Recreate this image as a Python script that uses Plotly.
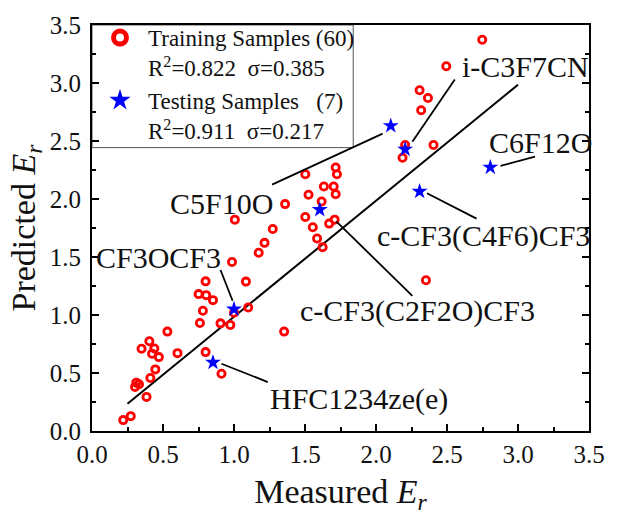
import plotly.graph_objects as go

# ---------------- data ----------------
train_x = [0.22, 0.273, 0.384, 0.303, 0.312, 0.331, 0.411, 0.446, 0.349, 0.404,
           0.439, 0.423, 0.471, 0.531, 0.602, 0.760, 0.781, 0.751, 0.804, 0.852,
           0.80, 0.905, 0.974, 1.0, 1.10, 0.80, 0.912, 1.084, 1.006, 1.36,
           1.502, 1.716, 1.725, 1.633, 1.702, 1.716, 1.525, 1.617, 1.502, 1.555,
           1.709, 1.67, 1.585, 1.624, 1.273, 1.215, 1.174, 0.986, 1.353, 2.748,
           2.495, 2.307, 2.366, 2.318, 2.405, 2.205, 2.187, 2.352]
train_y = [0.094, 0.128, 0.294, 0.38, 0.417, 0.403, 0.457, 0.531, 0.709, 0.774,
           0.711, 0.666, 0.637, 0.857, 0.671, 0.931, 1.037, 1.18, 1.171, 1.128,
           1.29, 0.928, 0.914, 1.02, 1.065, 0.68, 0.494, 1.288, 1.822, 1.956,
           2.213, 2.271, 2.213, 2.108, 2.108, 2.042, 2.037, 1.979, 1.845, 1.757,
           1.822, 1.788, 1.66, 1.585, 1.742, 1.622, 1.536, 1.457, 0.857, 3.373,
           3.145, 2.937, 2.871, 2.765, 2.465, 2.465, 2.356, 1.30]

test_names = ["CF3OCF3", "HFC1234ze(e)", "c-CF3(C2F2O)CF3", "C5F10O",
              "i-C3F7CN", "c-CF3(C4F6)CF3", "C6F12O"]
test_x = [1.0, 0.852, 1.604, 2.104, 2.205, 2.307, 2.805]
test_y = [1.05, 0.591, 1.908, 2.631, 2.428, 2.065, 2.273]

fit_range = [0.25, 3.0]
fit_slope = 1.0
fit_intercept = -0.015

legend_train = "Training Samples (60)<br>R<sup>2</sup>=0.822\u00a0\u00a0σ=0.385"
legend_test = "Testing Samples\u00a0\u00a0\u00a0(7)<br>R<sup>2</sup>=0.911\u00a0\u00a0σ=0.217"

tick_vals = [0.0, 0.5, 1.0, 1.5, 2.0, 2.5, 3.0, 3.5]

# label placement (text position, leader start, leader end) per test sample
label_pos = {
    "C5F10O": ((0.915, 1.962), (1.268, 2.124), (2.047, 2.563)),
    "CF3OCF3": ((0.465, 1.5), (0.905, 1.388), (0.99, 1.123)),
    "HFC1234ze(e)": ((1.88, 0.28), (0.912, 0.58), (1.238, 0.422)),
    "c-CF3(C2F2O)CF3": ((2.29, 1.037), (1.72, 1.808), (2.256, 1.165)),
    "c-CF3(C4F6)CF3": ((2.755, 1.68), (2.359, 2.05), (2.708, 1.831)),
    "C6F12O": ((3.155, 2.485), (2.877, 2.285), (3.12, 2.365)),
    "i-C3F7CN": ((3.055, 3.145), (2.555, 3.031), (2.256, 2.493)),
}

FONT = "Liberation Serif, Times New Roman, serif"

fig = go.Figure()

# fit line
fit_y = [fit_slope * v + fit_intercept for v in fit_range]
fig.add_trace(go.Scatter(x=fit_range, y=fit_y, mode="lines",
                         line=dict(color="black", width=2), showlegend=False,
                         hoverinfo="skip"))

# leader lines
for name in test_names:
    _, p0, p1 = label_pos[name]
    fig.add_shape(type="line", xref="x", yref="y", x0=p0[0], y0=p0[1],
                  x1=p1[0], y1=p1[1], line=dict(color="black", width=1.8))

# legend frame (box in the top-left corner of the plot area)
fig.add_shape(type="rect", xref="paper", yref="paper", x0=0, x1=0.5256,
              y0=0.698, y1=1, line=dict(color="#555555", width=1),
              fillcolor="white", layer="below")

# data
fig.add_trace(go.Scatter(x=train_x, y=train_y, mode="markers", showlegend=False,
                         marker=dict(symbol="circle-open", size=7.2, color="#FF0000",
                                     line=dict(width=2.8, color="#FF0000"))))
fig.add_trace(go.Scatter(x=test_x, y=test_y, mode="markers", showlegend=False,
                         marker=dict(symbol="star", size=12, color="#0000FF",
                                     line=dict(width=0))))

# legend entries
fig.add_trace(go.Scatter(x=[None], y=[None], mode="markers", name=legend_train,
                         marker=dict(symbol="circle-open", size=13, color="#FF0000",
                                     line=dict(width=5, color="#FF0000"))))
fig.add_trace(go.Scatter(x=[None], y=[None], mode="markers", name=legend_test,
                         marker=dict(symbol="star", size=16, color="#0000FF",
                                     line=dict(width=0))))

# labels
for name in test_names:
    (tx, ty), _, _ = label_pos[name]
    fig.add_annotation(x=tx, y=ty, xref="x", yref="y", text=name, showarrow=False,
                       font=dict(family=FONT, size=30, color="#111111"),
                       xanchor="center", yanchor="middle")

axis_common = dict(
    range=[0, 3.5], tickvals=tick_vals, tickformat=".1f",
    ticks="inside", ticklen=7, tickwidth=1.5, tickcolor="black",
    showline=True, linecolor="black", linewidth=1.8,
    showgrid=False, zeroline=False,
    tickfont=dict(family=FONT, size=25, color="#111111"),
    minor=dict(dtick=0.25, ticks="inside", ticklen=4, tickwidth=1.5,
               tickcolor="black", showgrid=False),
)

fig.update_layout(
    width=617, height=516,
    margin=dict(l=92, r=17, t=23, b=85),
    paper_bgcolor="white", plot_bgcolor="white",
    font=dict(family=FONT, color="#111111"),
    xaxis=dict(**axis_common, mirror=True,
               title=dict(text="Measured <i>E<sub>r</sub></i>",
                          font=dict(family=FONT, size=34), standoff=12)),
    yaxis=dict(**axis_common, mirror="ticks", ticklabelstandoff=4,
               title=dict(text="Predicted <i>E<sub>r</sub></i>",
                          font=dict(family=FONT, size=34), standoff=4)),
    legend=dict(x=0, y=1.022, xanchor="left", yanchor="top", valign="top",
                bgcolor="rgba(0,0,0,0)", borderwidth=0,
                font=dict(family=FONT, size=23, color="#111111"),
                itemwidth=46, tracegroupgap=0, itemsizing="trace"),
    showlegend=True,
)

fig.write_html("out.html")
